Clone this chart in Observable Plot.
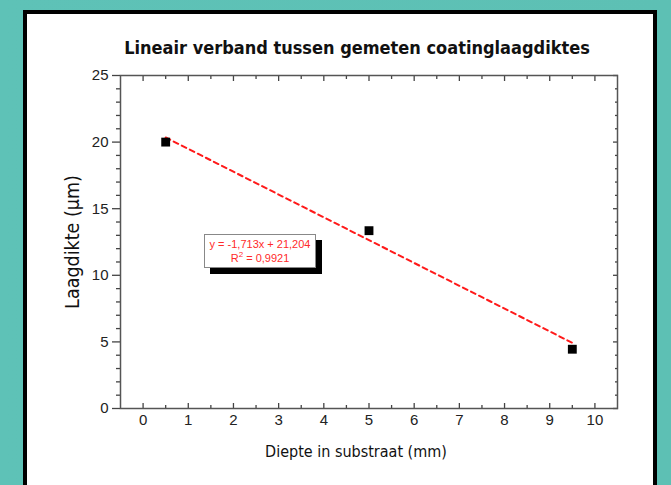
<!DOCTYPE html>
<html>
<head>
<meta charset="utf-8">
<script src="https://cdn.jsdelivr.net/npm/d3@7"></script>
<script src="https://cdn.jsdelivr.net/npm/@observablehq/plot@0.6"></script>
<style>
  html, body { margin: 0; padding: 0; }
  body { width: 671px; height: 485px; overflow: hidden; position: relative;
         background: linear-gradient(90deg, #5ec2b7, #5dc0b4); }
  #panel { position: absolute; left: 23px; top: 10px; width: 634px; height: 500px;
           box-sizing: border-box; border: 4px solid #000; background: #fff; }
  #title { position: absolute; left: 100px; width: 514px; top: 37px; text-align: center;
           font-family: "DejaVu Sans Condensed", "DejaVu Sans", sans-serif; font-stretch: condensed;
           font-weight: bold; font-size: 18px; color: #111; }
  #chart { position: absolute; left: 0; top: 0; }
  #fitbox { position: absolute; left: 204px; top: 234px; width: 112px; height: 34px;
            box-sizing: border-box; border: 1px solid #888; background: #fff;
            box-shadow: 6px 6px 0 #000; color: #ff2a2a; text-align: center;
            font: 11px "Liberation Sans", Arial, sans-serif; line-height: 14px; padding-top: 2px; }
  #fitbox sup { font-size: 8px; line-height: 0; }
  .cond { font-stretch: condensed; }
</style>
</head>
<body>
<div id="panel"></div>
<div id="chart"></div>
<div id="title"></div>
<div id="fitbox"></div>
<script>
const chartTitle = "Lineair verband tussen gemeten coatinglaagdiktes";
const xLabel = "Diepte in substraat (mm)";
const yLabel = "Laagdikte (µm)";
const depthValues = [0.5, 5, 9.5];
const thicknessValues = [20, 13.35, 4.45];
const fitSlope = -1.713;
const fitIntercept = 21.204;
const fitR2 = 0.9921;
const xMajorTicks = [0, 1, 2, 3, 4, 5, 6, 7, 8, 9, 10];
const xMinorTicks = [0.5, 1.5, 2.5, 3.5, 4.5, 5.5, 6.5, 7.5, 8.5, 9.5];
const yMajorTicks = [0, 5, 10, 15, 20, 25];
const yMinorTicks = [1, 2, 3, 4, 6, 7, 8, 9, 11, 12, 13, 14, 16, 17, 18, 19, 21, 22, 23, 24];

const points = depthValues.map((x, i) => ({x, y: thicknessValues[i]}));
const fitExtent = d3.extent(depthValues);
const fitLine = fitExtent.map(x => ({x, y: fitSlope * x + fitIntercept}));
const nl = d3.formatLocale({decimal: ",", thousands: ".", grouping: [3], currency: ["", ""], minus: "-"});
const comma = (v, f) => nl.format(f)(v);
const blank = () => "";

document.getElementById("title").textContent = chartTitle;
document.getElementById("fitbox").innerHTML =
  `y = ${comma(fitSlope, ".3f")}x + ${comma(fitIntercept, ".3f")}<br>R<sup>2</sup> = ${comma(fitR2, ".4f")}`;

const axisColor = "#444";
const labelFont = "'DejaVu Sans Condensed', 'DejaVu Sans', sans-serif";
const chart = Plot.plot({
  width: 671,
  height: 485,
  marginLeft: 120,
  marginRight: 54,
  marginTop: 75,
  marginBottom: 77,
  x: {domain: [-0.5, 10.5]},
  y: {domain: [0, 25]},
  style: {background: "transparent", fontFamily: "'Liberation Sans', Arial, sans-serif", fontSize: "15px", color: "#222"},
  marks: [
    Plot.axisX(xMajorTicks, {anchor: "bottom", tickSize: -5, tickPadding: 11, tickFormat: d3.format("d"), label: null, stroke: axisColor, strokeWidth: 1.3}),
    Plot.axisX(xMinorTicks, {anchor: "bottom", tickSize: -3, tickFormat: blank, label: null, stroke: axisColor, strokeWidth: 1.3}),
    Plot.axisX(xMajorTicks, {anchor: "top", tickSize: -5, tickFormat: blank, label: null, stroke: axisColor, strokeWidth: 1.3}),
    Plot.axisX(xMinorTicks, {anchor: "top", tickSize: -3, tickFormat: blank, label: null, stroke: axisColor, strokeWidth: 1.3}),
    Plot.axisY(yMajorTicks, {anchor: "left", tickSize: 8, tickPadding: 4, tickFormat: d3.format("d"), label: null, stroke: axisColor, strokeWidth: 1.3}),
    Plot.axisY(yMinorTicks, {anchor: "left", tickSize: 4, tickFormat: blank, label: null, stroke: axisColor, strokeWidth: 1.3}),
    Plot.axisY(yMajorTicks, {anchor: "right", tickSize: -5, tickFormat: blank, label: null, stroke: axisColor, strokeWidth: 1.3}),
    Plot.axisY(yMinorTicks, {anchor: "right", tickSize: -3, tickFormat: blank, label: null, stroke: axisColor, strokeWidth: 1.3}),
    Plot.frame({stroke: "#555", strokeWidth: 1.5}),
    Plot.line(fitLine, {x: "x", y: "y", stroke: "#ff1a1a", strokeWidth: 2, strokeDasharray: "5,4"}),
    Plot.dot(points, {x: "x", y: "y", symbol: "square", r: 5, fill: "#000"}),
    Plot.text([xLabel], {frameAnchor: "bottom", text: d => d, dx: -13, dy: 48, fontSize: 16, fontFamily: labelFont, className: "cond", fill: "#111"}),
    Plot.text([yLabel], {frameAnchor: "left", textAnchor: "middle", text: d => d, dx: -48, rotate: -90, fontSize: 19.5, fontFamily: labelFont, className: "cond", fill: "#111"})
  ]
});
document.getElementById("chart").appendChild(chart);
</script>
</body>
</html>
